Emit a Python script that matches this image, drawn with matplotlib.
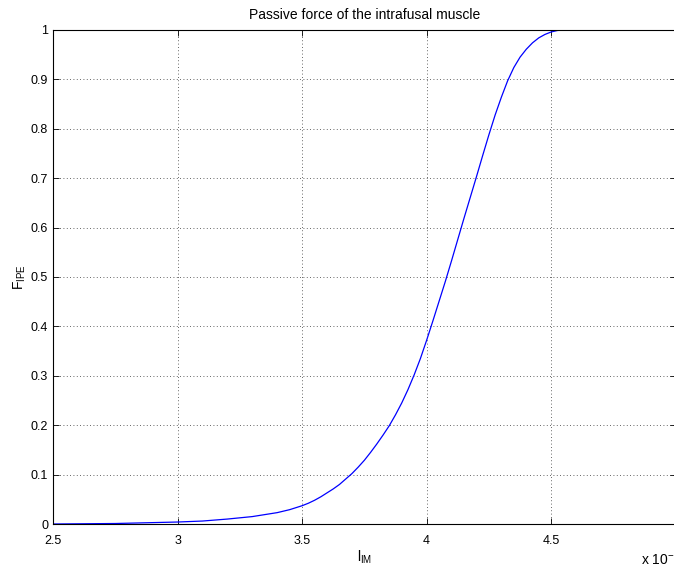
import matplotlib.pyplot as plt
import numpy as np

plt.rcParams['font.family'] = 'Liberation Sans'
plt.rcParams['mathtext.fontset'] = 'custom'
plt.rcParams['mathtext.rm'] = 'Liberation Sans'
plt.rcParams['mathtext.it'] = 'Liberation Sans'

# Intrafusal muscle length (x 10^-3) and passive force
l_im = [2.5, 2.75, 3.0, 3.1, 3.2, 3.3, 3.4, 3.45, 3.5, 3.525, 3.55, 3.575,
        3.6, 3.625, 3.65, 3.675, 3.7, 3.725, 3.75, 3.775, 3.8, 3.825, 3.85,
        3.875, 3.9, 3.925, 3.95, 3.975, 4.0, 4.025, 4.05, 4.075, 4.1, 4.125,
        4.15, 4.175, 4.2, 4.225, 4.25, 4.275, 4.3, 4.325, 4.35, 4.375, 4.4,
        4.425, 4.45, 4.475, 4.5, 4.525, 4.55, 4.6, 5.0]
f_pe = [0.0, 0.001, 0.004, 0.006, 0.010, 0.015, 0.023, 0.029, 0.037, 0.042,
        0.048, 0.055, 0.063, 0.071, 0.080, 0.091, 0.102, 0.115, 0.129, 0.145,
        0.162, 0.180, 0.199, 0.221, 0.245, 0.272, 0.302, 0.335, 0.372, 0.411,
        0.451, 0.491, 0.533, 0.576, 0.619, 0.661, 0.703, 0.746, 0.788, 0.828,
        0.864, 0.897, 0.924, 0.945, 0.961, 0.974, 0.984, 0.991, 0.996, 0.999,
        1.0, 1.0, 1.0]

x_ticks = [2.5, 3, 3.5, 4, 4.5, 5]
x_tick_labels = ['2.5', '3', '3.5', '4', '4.5', '']
y_ticks = [0, 0.1, 0.2, 0.3, 0.4, 0.5, 0.6, 0.7, 0.8, 0.9, 1]
y_tick_labels = ['0', '0.1', '0.2', '0.3', '0.4', '0.5', '0.6', '0.7', '0.8', '0.9', '1']

fig = plt.figure(figsize=(6.74, 5.7), dpi=100)
ax = fig.add_axes([0.0786, 0.0807, 0.924, 0.8667])

ax.plot(l_im, f_pe, color='blue', linewidth=0.9)

ax.set_xlim(2.5, 5)
ax.set_ylim(0, 1)
ax.set_xticks(x_ticks)
ax.set_xticklabels(x_tick_labels)
ax.set_yticks(y_ticks)
ax.set_yticklabels(y_tick_labels)

# MATLAB-like axes: inward ticks on all sides, dotted grid
ax.tick_params(direction='in', top=True, right=True, labelsize=9, length=4, width=0.6)
ax.tick_params(axis='y', pad=3.5)
ax.tick_params(axis='x', pad=8)
ax.grid(True, linestyle=(0, (1, 3)), color='black', linewidth=0.6, alpha=0.8)
for s in ax.spines.values():
    s.set_linewidth(0.8)

ax.set_title('Passive force of the intrafusal muscle', fontsize=10, pad=8)
ax.set_xlabel(r'l$_{\rm IM}$', fontsize=10, labelpad=1)
ax.set_ylabel(r'F$_{\rm IPE}$', fontsize=10, labelpad=2)

# exponent note, partly running off the right edge
fig.text(0.951, 0.009, r'x 10$^{-3}$', fontsize=10, va='baseline')

plt.savefig('out.png', dpi=100)
